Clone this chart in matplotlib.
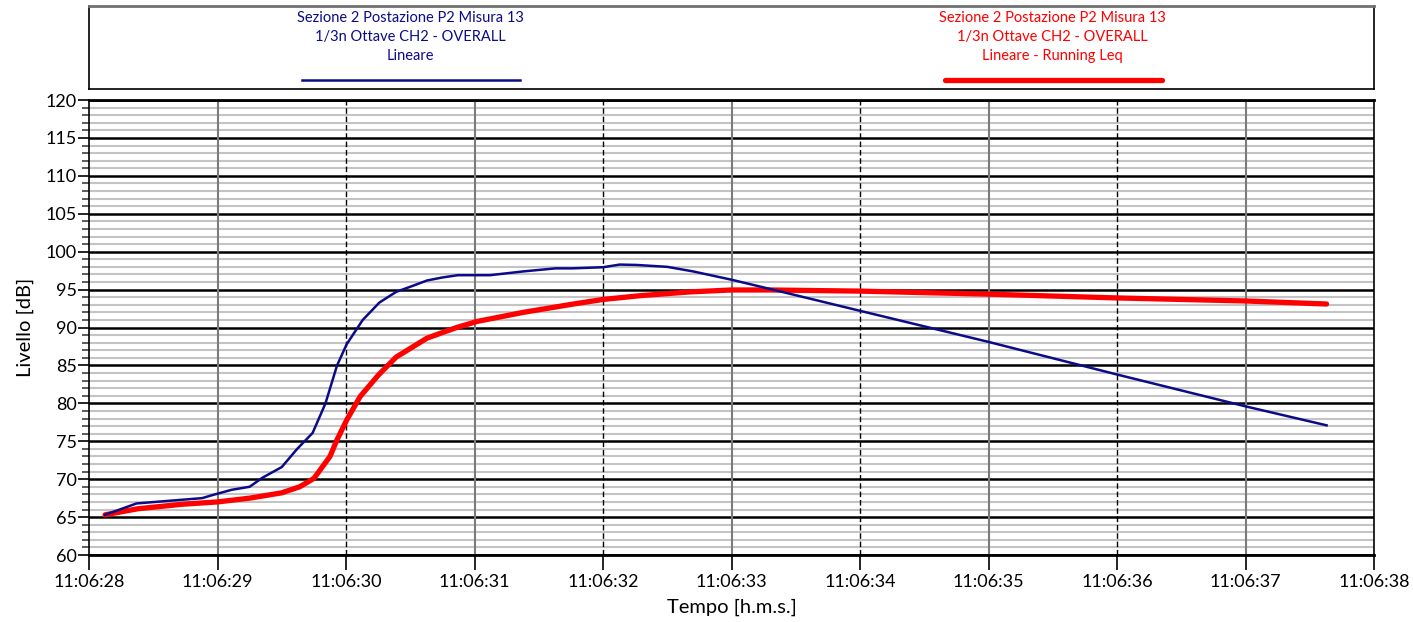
import matplotlib
matplotlib.use("Agg")
import matplotlib.pyplot as plt
from matplotlib.ticker import MultipleLocator, FuncFormatter

plt.rcParams["font.family"] = ["Lato", "DejaVu Sans"]

# time in seconds after 11:06:00
T_LIN = [28.125, 28.37, 28.88, 28.96, 29.11, 29.25, 29.35, 29.5, 29.62, 29.74,
         29.84, 29.93, 30.005, 30.13, 30.26, 30.39, 30.52, 30.63, 30.75, 30.87,
         31.12, 31.38, 31.63, 31.76, 32.0, 32.13, 32.26, 32.5, 32.7, 33.0,
         33.32, 34.0, 35.0, 36.0, 37.0, 37.63]
L_LIN = [65.3, 66.8, 67.5, 67.9, 68.6, 69.0, 70.2, 71.6, 74.0, 76.1,
         80.0, 85.0, 87.8, 91.0, 93.3, 94.7, 95.5, 96.2, 96.6, 96.9,
         96.9, 97.4, 97.8, 97.8, 97.95, 98.3, 98.25, 98.0, 97.4, 96.3,
         95.0, 92.2, 88.1, 83.8, 79.6, 77.1]

T_LEQ = [28.125, 28.38, 28.73, 29.0, 29.25, 29.5, 29.64, 29.75, 29.875, 29.93,
         30.005, 30.11, 30.25, 30.39, 30.63, 30.86, 31.02, 31.2, 31.38, 31.77,
         32.0, 32.29, 32.68, 33.0, 33.3, 34.0, 35.0, 36.0, 37.0, 37.63]
L_LEQ = [65.3, 66.1, 66.7, 67.0, 67.5, 68.2, 69.0, 70.1, 73.0, 75.2,
         77.8, 80.9, 83.7, 86.1, 88.6, 90.0, 90.8, 91.4, 92.0, 93.1,
         93.7, 94.2, 94.7, 94.95, 94.95, 94.8, 94.4, 93.9, 93.5, 93.1]

LEG_LIN = "Sezione 2 Postazione P2 Misura 13\n1/3n Ottave CH2 - OVERALL\nLineare"
LEG_LEQ = "Sezione 2 Postazione P2 Misura 13\n1/3n Ottave CH2 - OVERALL\nLineare - Running Leq"

BLUE = "#0b0b8a"
RED = "#ff0000"

fig = plt.figure(figsize=(14.13, 6.22), dpi=100)
ax = fig.add_axes([0.063, 0.1077, 0.9095, 0.7315])
lax = fig.add_axes([0.063, 0.857, 0.9095, 0.1334])

ax.set_xlim(28, 38)
ax.set_ylim(60, 120)
ax.yaxis.set_major_locator(MultipleLocator(5))
ax.yaxis.set_minor_locator(MultipleLocator(1))
ax.xaxis.set_major_locator(MultipleLocator(1))
ax.xaxis.set_major_formatter(FuncFormatter(lambda v, p: f"11:06:{int(round(v)):02d}"))

ax.grid(which="minor", axis="y", color="#c4c4c4", lw=1.5)
ax.grid(which="major", axis="y", color="black", lw=1.8)
for s in range(29, 38):
    if s % 2:
        ax.axvline(s, color="#7a7a7a", lw=1.5, zorder=0.6)
    else:
        ax.axvline(s, color="black", lw=1.0, ls=(0, (4, 2)), zorder=0.6)
ax.set_axisbelow(True)

ax.plot(T_LIN, L_LIN, color=BLUE, lw=1.8, zorder=3)
ax.plot(T_LEQ, L_LEQ, color=RED, lw=3.8, zorder=2, solid_capstyle="round")

for sp in ax.spines.values():
    sp.set_color("black")
    sp.set_linewidth(1.2)
ax.spines["top"].set_linewidth(2)
ax.spines["bottom"].set_linewidth(2)

ax.tick_params(axis="y", which="major", length=8, width=1.2, labelsize=13, pad=1)
ax.tick_params(axis="y", which="minor", length=5, width=1.2, color="#404040")
ax.tick_params(axis="x", which="major", length=11, width=1.2, labelsize=13, pad=3)

ax.set_ylabel("Livello [dB]", fontsize=14.5, labelpad=8)
ax.set_xlabel("Tempo [h.m.s.]", fontsize=14.5, labelpad=6)

lax.set_xlim(0, 1)
lax.set_ylim(0, 1)
lax.set_xticks([])
lax.set_yticks([])
for sp in lax.spines.values():
    sp.set_linewidth(1.2)
lax.spines["top"].set_color("#707070")
lax.spines["top"].set_linewidth(2)

lax.text(0.25, 0.94, LEG_LIN, color=BLUE, ha="center", va="top",
         fontsize=10.5, linespacing=1.45, transform=lax.transAxes)
lax.text(0.75, 0.94, LEG_LEQ, color=RED, ha="center", va="top",
         fontsize=10.5, linespacing=1.45, transform=lax.transAxes)
lax.plot([0.166, 0.335], [0.11, 0.11], color=BLUE, lw=1.8)
lax.plot([0.666, 0.835], [0.11, 0.11], color=RED, lw=3.8, solid_capstyle="round")

fig.savefig("out.png", dpi=100)
